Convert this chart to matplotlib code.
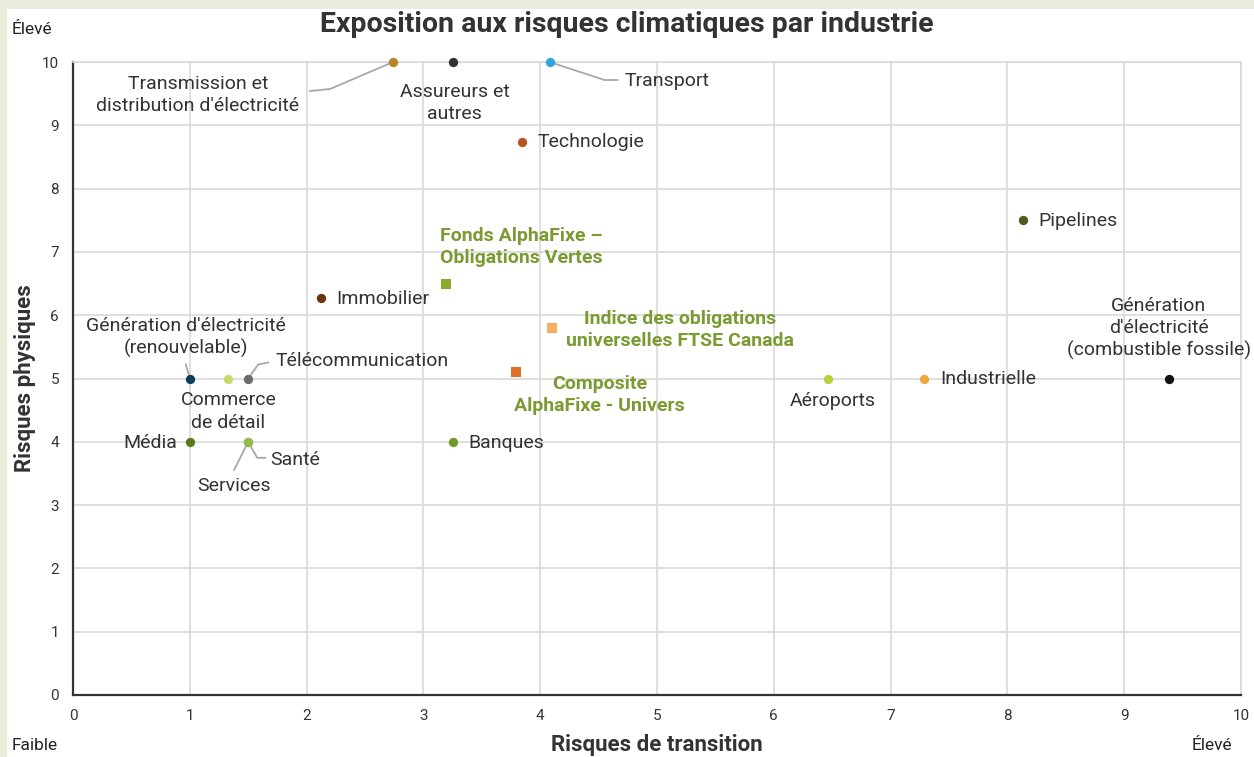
import matplotlib.pyplot as plt
from matplotlib.patches import Rectangle

plt.rcParams['font.family'] = ['Roboto', 'DejaVu Sans']

# données
noms = ["Transmission et\ndistribution d'électricité", "Assureurs et\nautres", "Transport",
        "Technologie", "Pipelines", "Fonds AlphaFixe –\nObligations Vertes", "Immobilier",
        "Indice des obligations\nuniverselles FTSE Canada", "Composite\nAlphaFixe - Univers",
        "Génération d'électricité\n(renouvelable)", "Commerce\nde détail", "Télécommunication",
        "Aéroports", "Industrielle", "Génération\nd'électricité\n(combustible fossile)",
        "Média", "Santé", "Services", "Banques"]
transition = [2.74, 3.25, 4.08, 3.84, 8.13, 3.19, 2.12, 4.10, 3.79, 1.0, 1.33, 1.5,
              6.46, 7.29, 9.38, 1.0, 1.5, 1.5, 3.25]
physiques = [10, 10, 10, 8.73, 7.5, 6.49, 6.27, 5.8, 5.1, 5, 5, 5, 5, 5, 5, 4, 4, 4, 4]
couleurs = ["#b5852a", "#333333", "#2ea8d8", "#b5561e", "#4a5e1a", "#8aac2a", "#6b3410",
            "#f0b060", "#e07028", "#0e3f5a", "#c6dc6a", "#6b6b6b", "#b8d040", "#eda83a",
            "#111111", "#5a7a1e", "#94b84a", "#94b84a", "#6e9a2e"]
fonds = ["Fonds AlphaFixe –\nObligations Vertes",
         "Indice des obligations\nuniverselles FTSE Canada", "Composite\nAlphaFixe - Univers"]

# position des étiquettes (décalage en pixels, alignement) et lignes de rappel
etiquettes = {
    "Transmission et\ndistribution d'électricité": (-195, -33, "center"),
    "Assureurs et\nautres": (2, -41, "center"),
    "Transport": (75, -19, "left"),
    "Technologie": (16, 0, "left"),
    "Pipelines": (16, -1, "left"),
    "Fonds AlphaFixe –\nObligations Vertes": (-6, 37, "left"),
    "Immobilier": (16, -1, "left"),
    "Indice des obligations\nuniverselles FTSE Canada": (128, -2, "center"),
    "Composite\nAlphaFixe - Univers": (84, -23, "center"),
    "Génération d'électricité\n(renouvelable)": (-4, 41, "center"),
    "Commerce\nde détail": (0, -33, "center"),
    "Télécommunication": (27, 17, "left"),
    "Aéroports": (5, -23, "center"),
    "Industrielle": (16, -1, "left"),
    "Génération\nd'électricité\n(combustible fossile)": (-10, 50, "center"),
    "Média": (-13, -1, "right"),
    "Santé": (22, -18, "left"),
    "Services": (-14, -44, "center"),
    "Banques": (16, -1, "left"),
}
rappels = {
    "Transmission et\ndistribution d'électricité": [(0, 0), (-63, -27), (-83, -29)],
    "Transport": [(0, 0), (55, -18), (68, -18)],
    "Génération d'électricité\n(renouvelable)": [(0, 0), (-4, 14)],
    "Télécommunication": [(0, 0), (10, 14), (20, 16)],
    "Santé": [(0, 0), (9, -16), (17, -16)],
    "Services": [(0, 0), (-14, -28)],
}

fig = plt.figure(figsize=(12.54, 7.57), dpi=100)
fig.patch.set_facecolor("#e9eddc")
fig.patches.append(Rectangle((7 / 1254, 0), 1, 1 - 9 / 757, transform=fig.transFigure,
                             facecolor="white", edgecolor="none", zorder=-10))
ax = fig.add_axes([73 / 1254, 1 - 695 / 757, 1168 / 1254, 633 / 757])
ax.set_facecolor("white")
ax.set_xlim(0, 10)
ax.set_ylim(0, 10)
ax.set_xticks(range(11))
ax.set_yticks(range(11))
ax.grid(True, color="#d9d9d9", linewidth=1.2)
ax.set_axisbelow(True)
ax.tick_params(length=0, labelsize=11, labelcolor="#333333", pad=10)
for cote in ["top", "right"]:
    ax.spines[cote].set_color("#d9d9d9")
    ax.spines[cote].set_linewidth(1.2)
for cote in ["left", "bottom"]:
    ax.spines[cote].set_color("#333333")
    ax.spines[cote].set_linewidth(1.6)

fig.canvas.draw()
for nom, x, y, c in zip(noms, transition, physiques, couleurs):
    est_fonds = nom in fonds
    ax.scatter(x, y, s=55 if est_fonds else 45, marker="s" if est_fonds else "o",
               color=c, zorder=4, clip_on=False, linewidths=0)
    dx, dy, ha = etiquettes[nom]
    ax.annotate(nom, (x, y), xytext=(dx, dy), textcoords="offset pixels",
                ha=ha, va="center", multialignment="center", fontsize=14,
                fontweight="bold" if est_fonds else "normal",
                color="#7a9a32" if est_fonds else "#333333", linespacing=1.3)
    if nom in rappels:
        px, py = ax.transData.transform((x, y))
        xs = [px + p[0] for p in rappels[nom]]
        ys = [py + p[1] for p in rappels[nom]]
        ax.plot(xs, ys, transform=None, color="#a8a8a8", linewidth=1.3, zorder=3,
                clip_on=False)

fig.text(0.5, 1 - 24 / 757, "Exposition aux risques climatiques par industrie",
         ha="center", va="center", fontsize=20.5, fontweight="bold", color="#333333")
fig.text(657 / 1254, 1 - 745 / 757, "Risques de transition", ha="center", va="center",
         fontsize=16, fontweight="bold", color="#333333")
fig.text(25 / 1254, 1 - 378 / 757, "Risques physiques", ha="center", va="center",
         rotation=90, fontsize=16, fontweight="bold", color="#333333")
fig.text(12 / 1254, 1 - 30 / 757, "Élevé", ha="left", va="center", fontsize=12.5,
         color="#222222")
fig.text(12 / 1254, 1 - 746 / 757, "Faible", ha="left", va="center", fontsize=12.5,
         color="#222222")
fig.text(1232 / 1254, 1 - 746 / 757, "Élevé", ha="right", va="center", fontsize=12.5,
         color="#222222")

fig.savefig("out.png", dpi=100, facecolor=fig.get_facecolor())
